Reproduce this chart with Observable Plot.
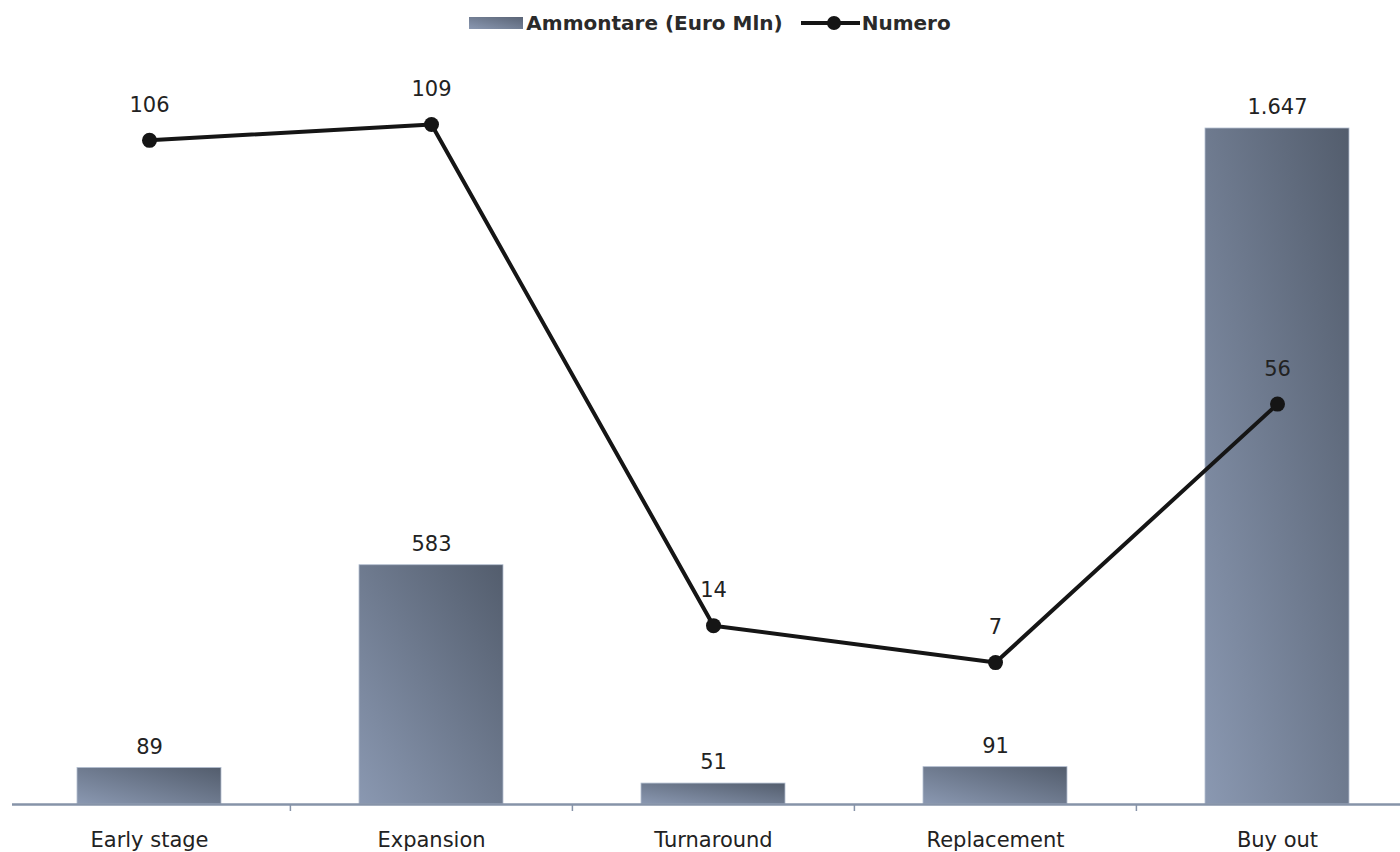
<!DOCTYPE html>
<html><head><meta charset="utf-8">
<script src="https://cdn.jsdelivr.net/npm/d3@7"></script>
<script src="https://cdn.jsdelivr.net/npm/@observablehq/plot@0.6"></script>
<style>
body{margin:0;background:#fff;font-family:"DejaVu Sans",Verdana,sans-serif;}
#legend{height:45px;display:flex;justify-content:center;align-items:center;font-size:20px;font-weight:bold;color:#2a2a2a;padding-left:20px;box-sizing:border-box;}
.sw-bar{width:54px;height:12px;background:linear-gradient(to top right,#8a98b1,#5a6476);margin-right:3px;}
.sw-line{margin-left:18px;margin-right:2px;}
</style></head><body>
<div id="legend"></div>
<div id="chart"></div>
<script>
const categories = ["Early stage","Expansion","Turnaround","Replacement","Buy out"];
const ammontare = [89, 583, 51, 91, 1647];
const numero = [106, 109, 14, 7, 56];
const seriesNames = ["Ammontare (Euro Mln)", "Numero"];

const data = categories.map((c,i)=>({cat:c, amount:ammontare[i], numero:numero[i]}));
const itFmt = d3.formatLocale({decimal:",", thousands:".", grouping:[3], currency:["","€"]}).format(",d");

// primary axis (Ammontare) and hidden secondary axis (Numero) expressed in primary units
const yDomain = [0, 1647];
const yRange = [759, 83];
const xRange = [7, 1418];
const secondary = d3.scaleLinear([0, 109], [255.8, 1656.7]);
const bw = (xRange[1]-xRange[0]) / categories.length;

// legend
const lg = document.getElementById("legend");
lg.innerHTML = `<div class="sw-bar"></div><span>${seriesNames[0]}</span>
<svg class="sw-line" width="59" height="16"><line x1="0" y1="8" x2="59" y2="8" stroke="#151515" stroke-width="4"/><circle cx="33" cy="8" r="7" fill="#151515"/></svg><span>${seriesNames[1]}</span>`;

function gradientDefs(){
  const ns = "http://www.w3.org/2000/svg";
  const defs = document.createElementNS(ns, "defs");
  const g = document.createElementNS(ns, "linearGradient");
  g.setAttribute("id","barGrad");
  g.setAttribute("x1","0"); g.setAttribute("y1","1");
  g.setAttribute("x2","1"); g.setAttribute("y2","0");
  [["0%","#8a98b1"],["100%","#535d6d"]].forEach(([o,c])=>{
    const s = document.createElementNS(ns,"stop");
    s.setAttribute("offset",o); s.setAttribute("stop-color",c);
    g.appendChild(s);
  });
  defs.appendChild(g);
  return defs;
}

const chart = Plot.plot({
  width: 1400,
  height: 807,
  marginLeft: 12,
  marginRight: 0,
  marginTop: 0,
  marginBottom: 48,
  style: {fontFamily: "'DejaVu Sans', Verdana, sans-serif", background: "#fff", color: "#222"},
  x: {type: "band", domain: categories, range: xRange, padding: 0, axis: null},
  y: {domain: yDomain, range: yRange, axis: null},
  marks: [
    gradientDefs,
    Plot.barY(data, {x: "cat", y: "amount", insetLeft: 69, insetRight: 69, fill: "url(#barGrad)", stroke: "#b3bed0", strokeWidth: 0.8}),
    Plot.ruleY([0], {stroke: "#8693a8", strokeWidth: 2.5}),
    Plot.ruleX(categories.slice(1), {x: d => d, y1: () => 0, y2: () => 0, insetTop: 7, dx: -bw/2, stroke: "#8693a8", strokeWidth: 1.5}),
    Plot.text(data, {x: "cat", y: "amount", text: d => itFmt(d.amount), dy: -21, fontSize: 21, fill: "#222"}),
    Plot.line(data, {x: "cat", y: d => secondary(d.numero), stroke: "#151515", strokeWidth: 4}),
    Plot.dot(data, {x: "cat", y: d => secondary(d.numero), r: 7.5, fill: "#151515"}),
    Plot.text(data, {x: "cat", y: d => secondary(d.numero), text: d => itFmt(d.numero), dy: -35, fontSize: 21, fill: "#222"}),
    Plot.text(categories, {x: d => d, y: () => 0, text: d => d, dy: 36, fontSize: 21, fill: "#222"})
  ]
});
document.getElementById("chart").appendChild(chart);
</script>
</body></html>
